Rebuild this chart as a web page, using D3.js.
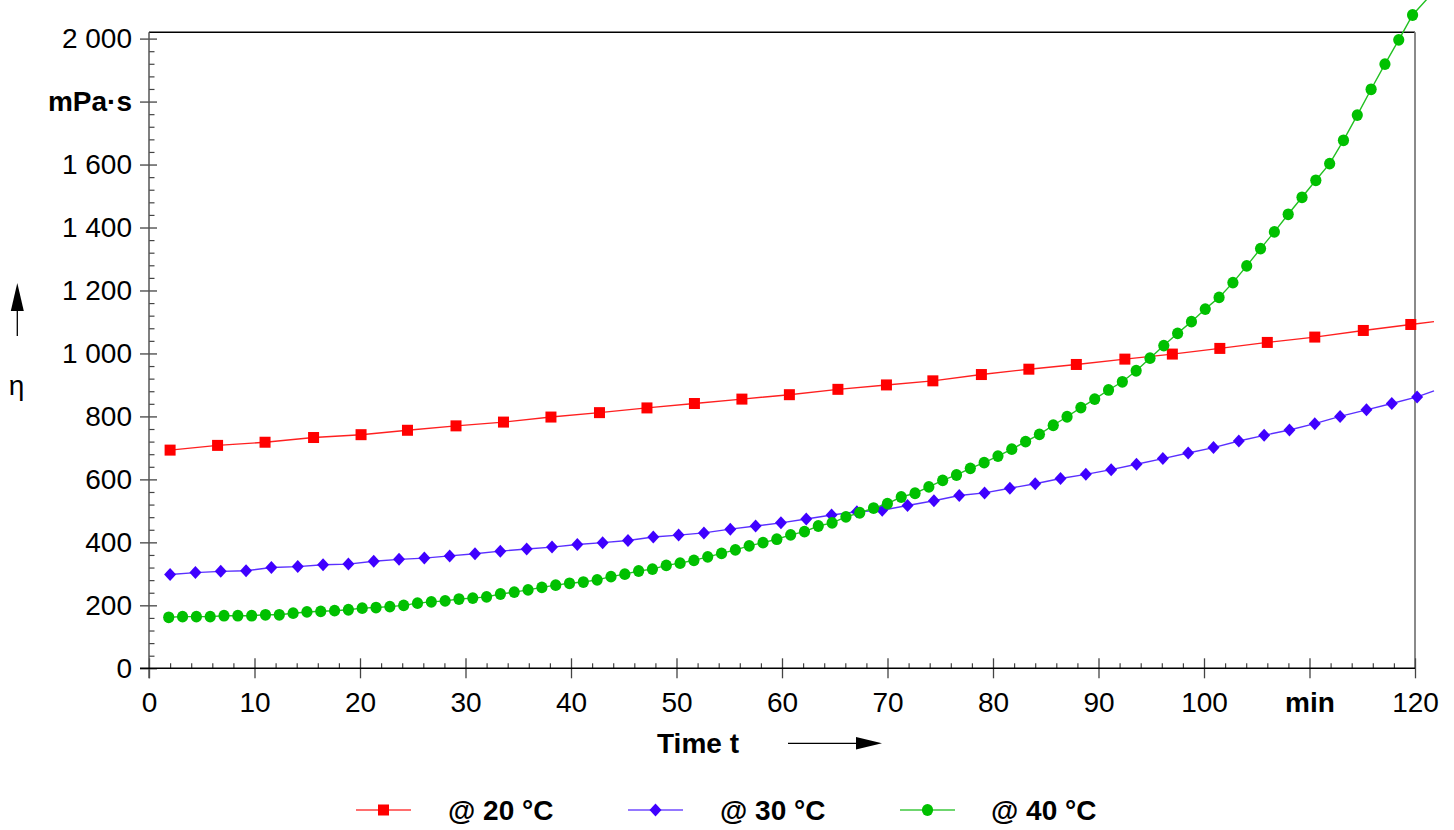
<!DOCTYPE html>
<html>
<head>
<meta charset="utf-8">
<script src="https://cdn.jsdelivr.net/npm/d3@7"></script>
<style>
  html, body { margin: 0; padding: 0; background: #fff; }
  svg { display: block; }
  text { font-family: "Liberation Sans", Arial, sans-serif; fill: #000; }
</style>
</head>
<body>
<svg id="chart" width="1454" height="830"></svg>
<script>
// ---------- data ----------
const xTicks = [0, 10, 20, 30, 40, 50, 60, 70, 80, 90, 100, 110, 120];
const xTickLabels = ["0", "10", "20", "30", "40", "50", "60", "70", "80", "90", "100", "min", "120"];
const yTicks = [0, 200, 400, 600, 800, 1000, 1200, 1400, 1600, 1800, 2000];
const yTickLabels = ["0", "200", "400", "600", "800", "1 000", "1 200", "1 400", "1 600", "mPa·s", "2 000"];
const seriesNames = ["@ 20 °C", "@ 30 °C", "@ 40 °C"];

const redTime = [2.0, 6.5, 11.0, 15.6, 20.1, 24.5, 29.1, 33.6, 38.1, 42.7, 47.2, 51.7, 56.2, 60.7,
  65.3, 69.9, 74.3, 78.9, 83.4, 87.9, 92.5, 97.0, 101.5, 106.0, 110.5, 115.1, 119.6];
const redVisc = [693, 708, 718, 733, 742, 756, 770, 782, 798, 812, 827, 841, 855, 869,
  886, 900, 913, 933, 950, 965, 982, 998, 1016, 1035, 1052, 1073, 1092];

const blueTime = [2.0, 4.4, 6.8, 9.2, 11.6, 14.1, 16.5, 18.9, 21.3, 23.7, 26.1, 28.5, 30.9, 33.3,
  35.8, 38.2, 40.6, 43.0, 45.4, 47.8, 50.2, 52.6, 55.1, 57.5, 59.9, 62.3, 64.7, 67.1, 69.5, 71.9,
  74.4, 76.8, 79.2, 81.6, 84.0, 86.4, 88.8, 91.2, 93.6, 96.1, 98.5, 100.9, 103.3, 105.7, 108.1,
  110.5, 112.9, 115.4, 117.8, 120.2];
const blueVisc = [298, 304, 308, 310, 320, 323, 329, 331, 340, 346, 350, 357, 364, 372,
  379, 385, 393, 399, 406, 417, 423, 430, 442, 452, 462, 474, 487, 497, 502, 517,
  532, 549, 557, 572, 586, 603, 616, 631, 648, 666, 684, 701, 722, 740, 757,
  777, 800, 821, 841, 862];

const greenTime = [1.87, 3.18, 4.49, 5.80, 7.11, 8.42, 9.73, 11.04, 12.35, 13.66, 14.97, 16.28,
  17.59, 18.90, 20.21, 21.52, 22.83, 24.14, 25.45, 26.76, 28.07, 29.38, 30.69, 32.00, 33.31,
  34.62, 35.93, 37.24, 38.55, 39.86, 41.17, 42.48, 43.79, 45.10, 46.41, 47.72, 49.03, 50.34,
  51.65, 52.96, 54.27, 55.58, 56.89, 58.20, 59.51, 60.82, 62.13, 63.44, 64.75, 66.06, 67.37,
  68.68, 69.99, 71.30, 72.61, 73.92, 75.23, 76.54, 77.85, 79.16, 80.47, 81.78, 83.09, 84.40,
  85.71, 87.02, 88.33, 89.64, 90.95, 92.26, 93.57, 94.88, 96.19, 97.50, 98.81, 100.12, 101.43,
  102.74, 104.05, 105.36, 106.67, 107.98, 109.29, 110.60, 111.91, 113.22, 114.53, 115.84,
  117.15, 118.46, 119.77];
const greenVisc = [162, 164, 164, 164, 167, 167, 167, 170, 170, 175, 179, 181, 183, 186, 191,
  193, 196, 200, 207, 211, 214, 220, 223, 227, 236, 242, 249, 257, 264, 270, 274, 281, 291,
  299, 309, 315, 327, 334, 343, 354, 365, 376, 389, 399, 410, 424, 434, 452, 462, 481, 494,
  509, 523, 544, 556, 576, 597, 614, 635, 653, 674, 696, 720, 743, 772, 799, 828, 855, 884,
  910, 945, 985, 1025, 1064, 1101, 1141, 1178, 1225, 1278, 1333, 1386, 1442, 1496, 1550, 1603,
  1677, 1757, 1839, 1919, 1996, 2075];

// the curves continue a little past the last marker
const tailTime = 121.8;
const tailVisc = [1101, 881, 2150];

// ---------- layout ----------
const svg = d3.select("#chart");
const L = 149, R = 1415, T = 32.3, B = 668.3;
const x = d3.scaleLinear().domain([0, 120]).range([L, R]);
const y = d3.scaleLinear().domain([0, 2020]).range([B, T]);
const FS = 28;

// frame (top black, right grey)
svg.append("line").attr("x1", L).attr("x2", R).attr("y1", T).attr("y2", T)
  .attr("stroke", "#000").attr("stroke-width", 1.5);
svg.append("line").attr("x1", R).attr("x2", R).attr("y1", T).attr("y2", B)
  .attr("stroke", "#8a8a8a").attr("stroke-width", 2);

// x axis: major ticks crossing the axis line
const xAxis = d3.axisBottom(x).tickValues(xTicks).tickSize(20).tickPadding(14)
  .tickFormat((d, i) => xTickLabels[i]);
const gx = svg.append("g").attr("transform", `translate(0,${B - 10})`).call(xAxis);
gx.select(".domain").remove();
gx.selectAll(".tick line").attr("stroke", "#444").attr("stroke-width", 1.3);
gx.selectAll(".tick text").attr("font-size", FS)
  .style("font-family", '"Liberation Sans", Arial, sans-serif').attr("fill", "#000")
  .attr("font-weight", (d) => d === 110 ? "bold" : "normal");

// x minor ticks
const xMinor = d3.range(0, 121, 2).filter(v => v % 10 !== 0);
const gxm = svg.append("g").attr("transform", `translate(0,${B})`)
  .call(d3.axisBottom(x).tickValues(xMinor).tickSize(-5).tickFormat(""));
gxm.select(".domain").remove();
gxm.selectAll(".tick line").attr("stroke", "#444").attr("stroke-width", 1.2);

// y axis
const yAxis = d3.axisLeft(y).tickValues(yTicks).tickSize(17).tickPadding(8)
  .tickFormat((d, i) => yTickLabels[i]);
const gy = svg.append("g").attr("transform", `translate(${L + 8},0)`).call(yAxis);
gy.select(".domain").remove();
gy.selectAll(".tick line").attr("stroke", "#444").attr("stroke-width", 1.3);
gy.selectAll(".tick text").attr("font-size", FS)
  .style("font-family", '"Liberation Sans", Arial, sans-serif').attr("fill", "#000")
  .attr("font-weight", (d) => d === 1800 ? "bold" : "normal");

const yMinor = d3.range(0, 2001, 40).filter(v => v % 200 !== 0);
const gym = svg.append("g").attr("transform", `translate(${L},0)`)
  .call(d3.axisLeft(y).tickValues(yMinor).tickSize(-5.5).tickFormat(""));
gym.select(".domain").remove();
gym.selectAll(".tick line").attr("stroke", "#444").attr("stroke-width", 1.2);

// axis lines
svg.append("line").attr("x1", L).attr("x2", L).attr("y1", T).attr("y2", B + 10)
  .attr("stroke", "#555").attr("stroke-width", 1.5);
svg.append("line").attr("x1", L - 9).attr("x2", R).attr("y1", B).attr("y2", B)
  .attr("stroke", "#000").attr("stroke-width", 1.5);

// axis titles
svg.append("text").attr("x", 657).attr("y", 752.5).attr("font-size", 28)
  .attr("font-weight", "bold").text("Time t");
svg.append("line").attr("x1", 788).attr("x2", 860).attr("y1", 743.3).attr("y2", 743.3)
  .attr("stroke", "#000").attr("stroke-width", 1.3);
svg.append("path").attr("d", "M882,743.3 L856,737 L856,749.6 Z").attr("fill", "#000");

svg.append("text").attr("x", 16.5).attr("y", 394.5).attr("font-size", 28)
  .attr("text-anchor", "middle").text("η");
svg.append("line").attr("x1", 17.3).attr("x2", 17.3).attr("y1", 336).attr("y2", 305)
  .attr("stroke", "#000").attr("stroke-width", 1.3);
svg.append("path").attr("d", "M17.3,283 L10.8,311 L23.8,311 Z").attr("fill", "#000");

// ---------- series ----------
const series = [
  { time: redTime, visc: redVisc, color: "#ff0000", line: "#ff2020", shape: "square" },
  { time: blueTime, visc: blueVisc, color: "#3f00ff", line: "#5a30ff", shape: "diamond" },
  { time: greenTime, visc: greenVisc, color: "#00c000", line: "#22c022", shape: "circle" }
];
const lineGen = d3.line().x(d => x(d[0])).y(d => y(d[1]));

function marker(g, shape, color, cx, cy) {
  if (shape === "square") {
    g.append("rect").attr("x", cx - 5.5).attr("y", cy - 5.5).attr("width", 11).attr("height", 11)
      .attr("fill", color);
  } else if (shape === "diamond") {
    g.append("path").attr("d", `M${cx},${cy - 6.5} L${cx + 6},${cy} L${cx},${cy + 6.5} L${cx - 6},${cy} Z`)
      .attr("fill", color);
  } else {
    g.append("ellipse").attr("cx", cx).attr("cy", cy).attr("rx", 5.6).attr("ry", 5.9)
      .attr("fill", color);
  }
}

series.forEach((s, si) => {
  const pts = s.time.map((t, i) => [t, s.visc[i]]);
  const g = svg.append("g");
  g.append("path").datum(pts.concat([[tailTime, tailVisc[si]]]))
    .attr("d", lineGen).attr("fill", "none").attr("stroke", s.line).attr("stroke-width", 1.4);
  pts.forEach(p => marker(g, s.shape, s.color, x(p[0]), y(p[1])));
});

// ---------- legend ----------
const legendX = [356, 628, 900];
const legendTextX = [448, 720, 991];
const legendY = 810;
series.forEach((s, i) => {
  const g = svg.append("g");
  g.append("line").attr("x1", legendX[i]).attr("x2", legendX[i] + 55)
    .attr("y1", legendY).attr("y2", legendY).attr("stroke", s.line)
    .attr("stroke-opacity", 0.65).attr("stroke-width", 2);
  marker(g, s.shape, s.color, legendX[i] + 27.5, legendY);
  g.append("text").attr("x", legendTextX[i]).attr("y", legendY + 10).attr("font-size", 28)
    .attr("font-weight", "bold").text(seriesNames[i]);
});
</script>
</body>
</html>
